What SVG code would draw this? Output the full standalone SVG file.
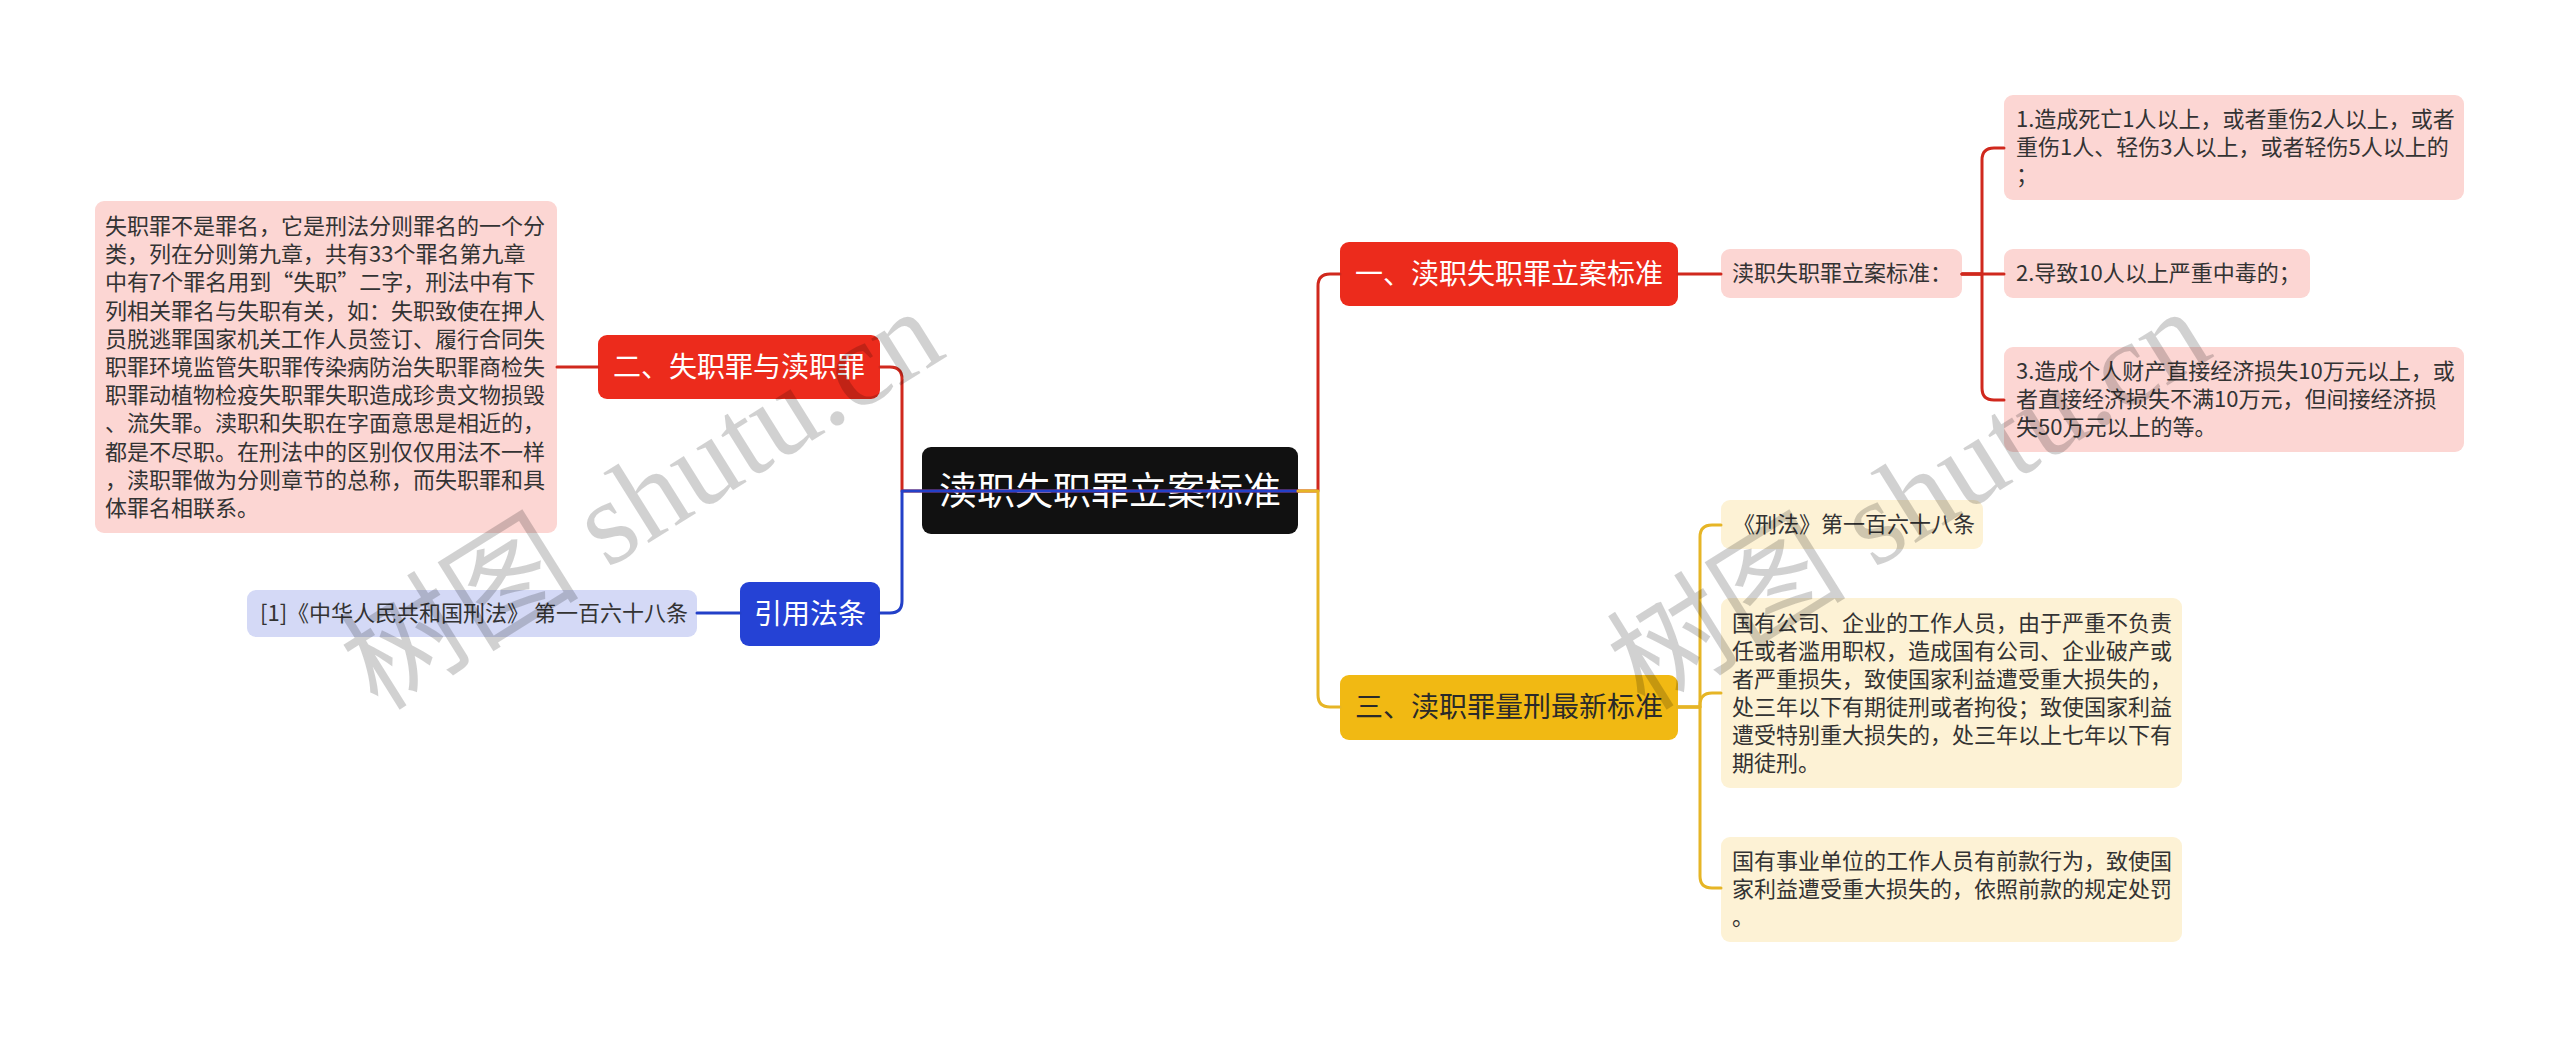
<svg xmlns="http://www.w3.org/2000/svg" width="2560" height="1038" viewBox="0 0 2560 1038">
<style>
text { font-family: "Noto Sans CJK SC", "Noto Sans", sans-serif; }
.sm { font-size: 22px; fill: #333333; }
.md { font-size: 28px; text-anchor: middle; }
.w { fill: #ffffff; }
.dk { fill: #2a2a2a; }
.red { fill: #EC2B1C; }
.pink { fill: #FCD6D3; }
.yel { fill: #F1B913; }
.lyel { fill: #FDF2D5; }
.blue { fill: #2542D5; }
.lav { fill: #D4D9F6; }
.c { fill: none; stroke-width: 3; stroke-linecap: round; stroke-linejoin: round; }
.cr { stroke: #D0281D; }
.cy { stroke: #E6B526; }
.cb { stroke: #2340C8; }
.wm { font-family: "Liberation Serif", "Noto Sans CJK SC", serif; font-size: 120px; fill: #000000; fill-opacity: 0.18; }
</style>
<rect width="2560" height="1038" fill="#ffffff"/>

<g id="nodes">
  <g id="root">
    <rect x="922" y="447" width="376" height="87" rx="9" fill="#111111"/>
    <text x="1110" y="504" text-anchor="middle" font-size="38" class="w">渎职失职罪立案标准</text>
  </g>
  <g id="n2">
    <rect x="598" y="335" width="282" height="64" rx="9" class="red"/>
    <text x="739" y="377" class="md w">二、失职罪与渎职罪</text>
  </g>
  <g id="n2a">
    <rect x="95" y="201" width="462" height="332" rx="9" class="pink"/>
    <text class="sm">
      <tspan x="105" y="234">失职罪不是罪名，它是刑法分则罪名的一个分</tspan>
      <tspan x="105" y="262.2">类，列在分则第九章，共有33个罪名第九章</tspan>
      <tspan x="105" y="290.4">中有7个罪名用到“失职”二字，刑法中有下</tspan>
      <tspan x="105" y="318.6">列相关罪名与失职有关，如：失职致使在押人</tspan>
      <tspan x="105" y="346.8">员脱逃罪国家机关工作人员签订、履行合同失</tspan>
      <tspan x="105" y="375">职罪环境监管失职罪传染病防治失职罪商检失</tspan>
      <tspan x="105" y="403.2">职罪动植物检疫失职罪失职造成珍贵文物损毁</tspan>
      <tspan x="105" y="431.4">、流失罪。渎职和失职在字面意思是相近的，</tspan>
      <tspan x="105" y="459.6">都是不尽职。在刑法中的区别仅仅用法不一样</tspan>
      <tspan x="105" y="487.8">，渎职罪做为分则章节的总称，而失职罪和具</tspan>
      <tspan x="105" y="516">体罪名相联系。</tspan>
    </text>
  </g>
  <g id="n4">
    <rect x="740" y="582" width="140" height="64" rx="9" class="blue"/>
    <text x="810" y="624" class="md w">引用法条</text>
  </g>
  <g id="n4a">
    <rect x="247" y="590" width="450" height="47" rx="9" class="lav"/>
    <text x="260" y="621" class="sm">[1]《中华人民共和国刑法》 第一百六十八条</text>
  </g>
  <g id="n1">
    <rect x="1340" y="242" width="338" height="64" rx="9" class="red"/>
    <text x="1509" y="284" class="md w">一、渎职失职罪立案标准</text>
  </g>
  <g id="n1a">
    <rect x="1721" y="249" width="241" height="49" rx="9" class="pink"/>
    <text x="1732" y="281" class="sm">渎职失职罪立案标准：</text>
  </g>
  <g id="n1a1">
    <rect x="2004" y="95" width="460" height="105" rx="9" class="pink"/>
    <text class="sm">
      <tspan x="2016" y="127">1.造成死亡1人以上，或者重伤2人以上，或者</tspan>
      <tspan x="2016" y="155">重伤1人、轻伤3人以上，或者轻伤5人以上的</tspan>
      <tspan x="2016" y="183">；</tspan>
    </text>
  </g>
  <g id="n1a2">
    <rect x="2004" y="249" width="306" height="49" rx="9" class="pink"/>
    <text x="2016" y="281" class="sm">2.导致10人以上严重中毒的；</text>
  </g>
  <g id="n1a3">
    <rect x="2004" y="347" width="460" height="105" rx="9" class="pink"/>
    <text class="sm">
      <tspan x="2016" y="379">3.造成个人财产直接经济损失10万元以上，或</tspan>
      <tspan x="2016" y="407">者直接经济损失不满10万元，但间接经济损</tspan>
      <tspan x="2016" y="435">失50万元以上的等。</tspan>
    </text>
  </g>
  <g id="n3">
    <rect x="1340" y="675" width="338" height="65" rx="9" class="yel"/>
    <text x="1509" y="717" class="md dk">三、渎职罪量刑最新标准</text>
  </g>
  <g id="n3a">
    <rect x="1721" y="500" width="262" height="49" rx="9" class="lyel"/>
    <text x="1733" y="532" class="sm">《刑法》第一百六十八条</text>
  </g>
  <g id="n3b">
    <rect x="1721" y="598" width="461" height="190" rx="9" class="lyel"/>
    <text class="sm">
      <tspan x="1732" y="631">国有公司、企业的工作人员，由于严重不负责</tspan>
      <tspan x="1732" y="659">任或者滥用职权，造成国有公司、企业破产或</tspan>
      <tspan x="1732" y="687">者严重损失，致使国家利益遭受重大损失的，</tspan>
      <tspan x="1732" y="715">处三年以下有期徒刑或者拘役；致使国家利益</tspan>
      <tspan x="1732" y="743">遭受特别重大损失的，处三年以上七年以下有</tspan>
      <tspan x="1732" y="771">期徒刑。</tspan>
    </text>
  </g>
  <g id="n3c">
    <rect x="1721" y="837" width="461" height="105" rx="9" class="lyel"/>
    <text class="sm">
      <tspan x="1732" y="869">国有事业单位的工作人员有前款行为，致使国</tspan>
      <tspan x="1732" y="897">家利益遭受重大损失的，依照前款的规定处罚</tspan>
      <tspan x="1732" y="925">。</tspan>
    </text>
  </g>
</g>

<g id="connectors">
  <path class="c cr" d="M1298 491 H902 V379 Q902 367 890 367 H880"/>
  <path class="c cr" d="M598 367 H557"/>
  <path class="c cb" d="M1298 491 H902 V601 Q902 613 890 613 H880"/>
  <path class="c cb" d="M740 613 H697"/>
  <path class="c cr" d="M1298 491 H1318 V286 Q1318 274 1330 274 H1340"/>
  <path class="c cy" d="M1298 491 H1318 V695 Q1318 707 1330 707 H1340"/>
  <path class="c cr" d="M1678 274 H1721"/>
  <path class="c cr" d="M1962 274 H1982 V160 Q1982 148 1994 148 H2004"/>
  <path class="c cr" d="M1962 274 H2004"/>
  <path class="c cr" d="M1962 274 H1982 V388 Q1982 400 1994 400 H2004"/>
  <path class="c cy" d="M1678 707 H1700 V537 Q1700 525 1712 525 H1721"/>
  <path class="c cy" d="M1678 707 H1700 V705 Q1700 693 1712 693 H1721"/>
  <path class="c cy" d="M1678 707 H1700 V876 Q1700 888 1712 888 H1721"/>
</g>

<g id="watermarks">
  <text class="wm" transform="translate(378 712) rotate(-32)">树图 shutu.cn</text>
  <text class="wm" transform="translate(1645 712) rotate(-32)">树图 shutu.cn</text>
</g>
</svg>
